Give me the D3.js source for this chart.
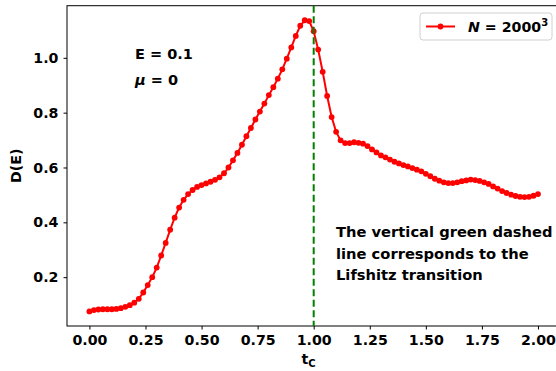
<!DOCTYPE html>
<html>
<head>
<meta charset="utf-8">
<script src="https://cdn.jsdelivr.net/npm/d3@7"></script>
<style>
  body { margin: 0; background: #fff; }
  svg { display: block; font-family: "DejaVu Sans", sans-serif; font-weight: bold; }
</style>
</head>
<body>
<div id="vis"></div>
<script>
const WIDTH = 556;
const HEIGHT = 371;

// t_c sampled every 0.02 from 0 to 2
const TC = d3.range(0, 101).map(i => i * 0.02);
const DE = [
  0.075, 0.080, 0.082, 0.083, 0.083, 0.083, 0.084, 0.087, 0.092, 0.098,
  0.107, 0.121, 0.144, 0.171, 0.200, 0.235, 0.279, 0.325, 0.373, 0.417,
  0.454, 0.482, 0.503, 0.518, 0.529, 0.536, 0.542, 0.548, 0.555, 0.564,
  0.579, 0.600, 0.626, 0.653, 0.683, 0.714, 0.744, 0.775, 0.804, 0.833,
  0.864, 0.893, 0.924, 0.958, 0.997, 1.038, 1.080, 1.117, 1.137, 1.134,
  1.097, 1.030, 0.949, 0.861, 0.784, 0.730, 0.699, 0.689, 0.689, 0.692,
  0.690, 0.687, 0.678, 0.666, 0.655, 0.644, 0.637, 0.629, 0.621, 0.615,
  0.609, 0.604, 0.598, 0.592, 0.586, 0.577, 0.568, 0.559, 0.552, 0.546,
  0.543, 0.543, 0.546, 0.550, 0.553, 0.556, 0.554, 0.551, 0.546, 0.540,
  0.531, 0.523, 0.514, 0.507, 0.501, 0.496, 0.493, 0.492, 0.493, 0.497,
  0.503
];
const X_TICKS = [0, 0.25, 0.5, 0.75, 1.0, 1.25, 1.5, 1.75, 2.0];
const Y_TICKS = [0.2, 0.4, 0.6, 0.8, 1.0];
const LIFSHITZ_T = 1.0;
const NOTE_LINES = ["The vertical green dashed", "line corresponds to the", "Lifshitz transition"];

const data = TC.map((t, i) => ({ t: t, d: DE[i] }));

const svg = d3.select("#vis").append("svg")
  .attr("width", WIDTH).attr("height", HEIGHT);

// plot box (right edge runs past the canvas)
const boxLeft = 67, boxRight = 560.4, boxTop = 5.7, boxBottom = 326;

// 5% margins around the data, like matplotlib
const yExt = d3.extent(DE);
const yPad = (yExt[1] - yExt[0]) * 0.05;
const x = d3.scaleLinear().domain([-0.1, 2.1]).range([boxLeft, boxRight]);
const y = d3.scaleLinear().domain([yExt[0] - yPad, yExt[1] + yPad]).range([boxBottom, boxTop]);

const xAxis = svg.append("g")
  .attr("transform", `translate(0,${boxBottom})`)
  .call(d3.axisBottom(x).tickValues(X_TICKS).tickFormat(d3.format(".2f")).tickSizeOuter(0).tickSize(3.5).tickPadding(5));
const yAxis = svg.append("g")
  .attr("transform", `translate(${boxLeft},0)`)
  .call(d3.axisLeft(y).tickValues(Y_TICKS).tickFormat(d3.format(".1f")).tickSizeOuter(0).tickSize(3.5).tickPadding(5));

[xAxis, yAxis].forEach(g => {
  g.select(".domain").remove();
  g.selectAll("text").attr("font-size", 14.2).attr("font-family", "DejaVu Sans").attr("font-weight", "bold").attr("fill", "#000");
  g.selectAll("line").attr("stroke", "#000").attr("stroke-width", 1);
});

// frame
svg.append("rect")
  .attr("x", boxLeft).attr("y", boxTop)
  .attr("width", boxRight - boxLeft).attr("height", boxBottom - boxTop)
  .attr("fill", "none").attr("stroke", "#000").attr("stroke-width", 1);

// axis titles
svg.append("text")
  .attr("transform", `translate(21,${(boxTop + boxBottom) / 2}) rotate(-90)`)
  .attr("text-anchor", "middle").attr("font-size", 14.2)
  .text("D(E)");

const xl = svg.append("text")
  .attr("x", (boxLeft + 560) / 2 - 5).attr("y", 364)
  .attr("text-anchor", "middle").attr("font-size", 14.2);
xl.append("tspan").text("t");
xl.append("tspan").attr("font-size", 10).attr("dy", 3).text("C");

// curve
const g = svg.append("g");
g.append("path")
  .datum(data)
  .attr("fill", "none").attr("stroke", "#ff0000").attr("stroke-width", 2)
  .attr("d", d3.line().x(d => x(d.t)).y(d => y(d.d)));
g.selectAll("circle")
  .data(data)
  .enter()
  .append("circle")
  .attr("cx", d => x(d.t)).attr("cy", d => y(d.d))
  .attr("r", 2.9).attr("fill", "#ff0000");

// Lifshitz transition marker
svg.append("line")
  .attr("x1", x(LIFSHITZ_T)).attr("x2", x(LIFSHITZ_T))
  .attr("y1", boxTop).attr("y2", boxBottom)
  .attr("stroke", "#008000").attr("stroke-width", 2)
  .attr("stroke-dasharray", "7,3.5");

// parameters
svg.append("text").attr("x", 135).attr("y", 59).attr("font-size", 14.5).text("E = 0.1");
const mu = svg.append("text").attr("x", 135).attr("y", 85).attr("font-size", 14.5);
mu.append("tspan").attr("font-style", "italic").text("μ");
mu.append("tspan").text(" = 0");

// note
svg.append("g").selectAll("text")
  .data(NOTE_LINES)
  .enter()
  .append("text")
  .attr("x", 336).attr("y", (d, i) => 237 + i * 21.5)
  .attr("font-size", 14.7)
  .text(d => d);

// legend
const lg = svg.append("g").attr("transform", "translate(420,13)");
lg.append("rect")
  .attr("width", 132).attr("height", 27).attr("rx", 3)
  .attr("fill", "#fff").attr("fill-opacity", 0.8)
  .attr("stroke", "#d0d0d0").attr("stroke-width", 1);
lg.append("line")
  .attr("x1", 6).attr("x2", 35).attr("y1", 13.5).attr("y2", 13.5)
  .attr("stroke", "#ff0000").attr("stroke-width", 2);
lg.append("circle").attr("cx", 20.5).attr("cy", 13.5).attr("r", 2.9).attr("fill", "#ff0000");
const lt = lg.append("text").attr("x", 48).attr("y", 19).attr("font-size", 14.2);
lt.append("tspan").attr("font-style", "italic").text("N");
lt.append("tspan").text(" = 2000");
lt.append("tspan").attr("font-size", 10).attr("dy", -6).text("3");
</script>
</body>
</html>
